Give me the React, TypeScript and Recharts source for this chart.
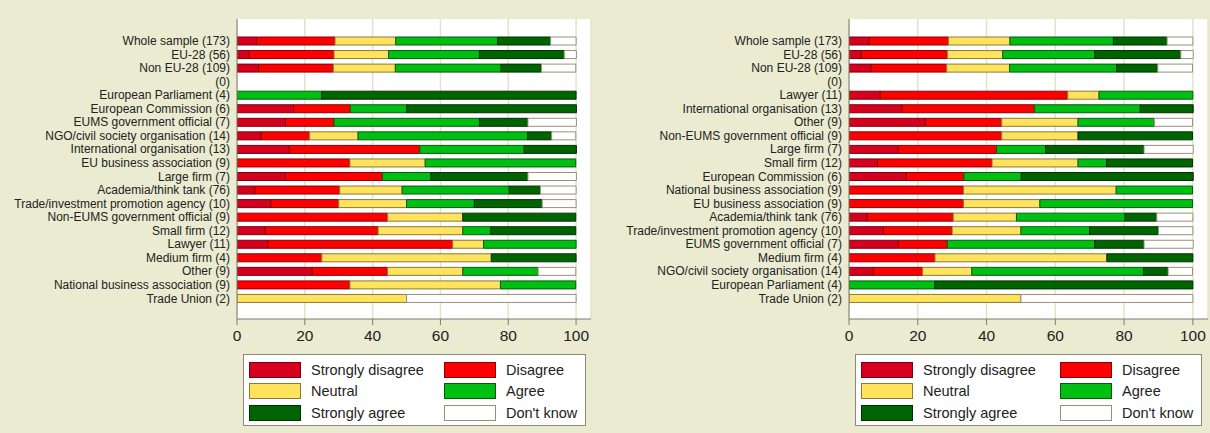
import { BarChart, Bar, XAxis, YAxis, CartesianGrid } from 'recharts';

// respondent groups, in the order of the left panel
const groups = [
    'Whole sample (173)',
    'EU-28 (56)',
    'Non EU-28 (109)',
    '(0)',
    'European Parliament (4)',
    'European Commission (6)',
    'EUMS government official (7)',
    'NGO/civil society organisation (14)',
    'International organisation (13)',
    'EU business association (9)',
    'Large firm (7)',
    'Academia/think tank (76)',
    'Trade/investment promotion agency (10)',
    'Non-EUMS government official (9)',
    'Small firm (12)',
    'Lawyer (11)',
    'Medium firm (4)',
    'Other (9)',
    'National business association (9)',
    'Trade Union (2)',
];

// shares in percent, same order as groups
const stronglyDisagree = [5.8, 3.6, 6.4, 0, 0, 16.7, 14.3, 7.1, 15.4, 0, 14.3, 5.3, 10, 0, 8.3, 9.1, 0, 22.2, 0, 0];
const disagree = [23.1, 25.0, 22.0, 0, 0, 16.7, 14.3, 14.3, 38.5, 33.3, 28.6, 25.0, 20, 44.4, 33.3, 54.5, 25, 22.2, 33.3, 0];
const neutral = [17.9, 16.1, 18.3, 0, 0, 0, 0, 14.3, 0, 22.2, 0, 18.4, 20, 22.2, 25, 9.1, 50, 22.2, 44.4, 50];
const agree = [30.1, 26.8, 31.2, 0, 25, 16.7, 42.9, 50, 30.8, 44.4, 14.3, 31.6, 20, 0, 8.3, 27.3, 0, 22.2, 22.2, 0];
const stronglyAgree = [15.6, 25.0, 11.9, 0, 75, 50, 14.3, 7.1, 15.4, 0, 28.6, 9.2, 20, 33.3, 25, 0, 25, 0, 0, 0];
const dontKnow = [7.5, 3.6, 10.1, 0, 0, 0, 14.3, 7.1, 0, 0, 14.3, 10.5, 10, 0, 0, 0, 0, 11.1, 0, 50];

// right panel order (sorted by share disagreeing)
const rightOrder = [
    'Whole sample (173)',
    'EU-28 (56)',
    'Non EU-28 (109)',
    '(0)',
    'Lawyer (11)',
    'International organisation (13)',
    'Other (9)',
    'Non-EUMS government official (9)',
    'Large firm (7)',
    'Small firm (12)',
    'European Commission (6)',
    'National business association (9)',
    'EU business association (9)',
    'Academia/think tank (76)',
    'Trade/investment promotion agency (10)',
    'EUMS government official (7)',
    'Medium firm (4)',
    'NGO/civil society organisation (14)',
    'European Parliament (4)',
    'Trade Union (2)',
];

const xTicks = [0, 20, 40, 60, 80, 100];

const SERIES = [
    { key: 'sd', name: 'Strongly disagree', fill: '#d4001e', stroke: '#7a0010' },
    { key: 'd', name: 'Disagree', fill: '#ff0000', stroke: '#8a0000' },
    { key: 'n', name: 'Neutral', fill: '#ffe35c', stroke: '#8a7a3a' },
    { key: 'a', name: 'Agree', fill: '#00bf13', stroke: '#0a5a0a' },
    { key: 'sa', name: 'Strongly agree', fill: '#006400', stroke: '#003000' },
    { key: 'dk', name: "Don't know", fill: '#ffffff', stroke: '#9a917c' },
];

const FONT = '"Liberation Sans", Arial, Helvetica, sans-serif';
const BG = '#eaebd0';
const AXIS = '#7d7b6c';
const GRID = '#e4e3c6';

const nz = (v: number) => (v > 0 ? v : null);

const rows = groups.map((g, i) => ({
    group: g,
    sd: nz(stronglyDisagree[i]),
    d: nz(disagree[i]),
    n: nz(neutral[i]),
    a: nz(agree[i]),
    sa: nz(stronglyAgree[i]),
    dk: nz(dontKnow[i]),
}));

const leftData = rows;
const rightData = rightOrder.map(g => rows.find(r => r.group === g)!);

// plain one-line label, recharts would wrap the long ones
const GroupTick = (props: any) => {
    const { x, y, payload } = props;
    return (
        <text x={x} y={y} dy="0.36em" textAnchor="end" fill="#222" fontSize={12} fontFamily={FONT}>
            {payload.value}
        </text>
    );
};

function Panel({ data, width, rightMargin }: { data: typeof rows; width: number; rightMargin: number }) {
    return (
        <BarChart
            width={width}
            height={433}
            data={data}
            layout="vertical"
            margin={{ top: 19, right: rightMargin, bottom: 84, left: 0 }}
            barSize={8}
        >
            <CartesianGrid horizontal={false} stroke={GRID} strokeWidth={1.5} fill="#ffffff" />
            <XAxis
                type="number"
                domain={[0, 104.4]}
                ticks={xTicks}
                allowDataOverflow
                height={30}
                tickSize={6}
                tickMargin={5}
                stroke={AXIS}
                tick={{ fill: '#222', fontSize: 15.5, fontFamily: FONT }}
            />
            <YAxis
                type="category"
                dataKey="group"
                width={237}
                interval={0}
                tickLine={false}
                tickSize={0}
                tickMargin={7}
                stroke={AXIS}
                padding={{ top: 15, bottom: 14 }}
                tick={GroupTick}
            />
            {SERIES.map(s => (
                <Bar
                    key={s.key}
                    dataKey={s.key}
                    name={s.name}
                    stackId="a"
                    fill={s.fill}
                    stroke={s.stroke}
                    strokeWidth={1}
                    isAnimationActive={false}
                />
            ))}
        </BarChart>
    );
}

function LegendBox({ left, width }: { left: number; width: number }) {
    const col2 = width - 143;
    return (
        <div
            style={{
                position: 'absolute',
                left,
                top: 354,
                width,
                height: 72,
                boxSizing: 'border-box',
                background: '#fff',
                border: '1px solid #8f8876',
                fontFamily: FONT,
                fontSize: 14.5,
                color: '#222',
            }}
        >
            {SERIES.map((s, i) => {
                const col = i % 2;
                const row = Math.floor(i / 2);
                const x = col === 0 ? 5 : col2;
                return (
                    <div key={s.key} style={{ position: 'absolute', left: x, top: 6 + row * 21.5, height: 17, display: 'flex', alignItems: 'center' }}>
                        <div style={{ width: 52, height: 16, boxSizing: 'border-box', background: s.fill, border: `1px solid ${s.stroke}` }} />
                        <span style={{ marginLeft: 10, whiteSpace: 'nowrap' }}>{s.name}</span>
                    </div>
                );
            })}
        </div>
    );
}

export default function App() {
    return (
        <div style={{ position: 'fixed', left: 0, top: 0, width: 1210, height: 433, background: BG, overflow: 'hidden' }}>
            <div style={{ position: 'absolute', left: 0, top: 0 }}>
                <Panel data={leftData} width={605} rightMargin={14} />
            </div>
            <div style={{ position: 'absolute', left: 612, top: 0 }}>
                <Panel data={rightData} width={598} rightMargin={2} />
            </div>
            <LegendBox left={243} width={343} />
            <LegendBox left={855} width={347} />
        </div>
    );
}
